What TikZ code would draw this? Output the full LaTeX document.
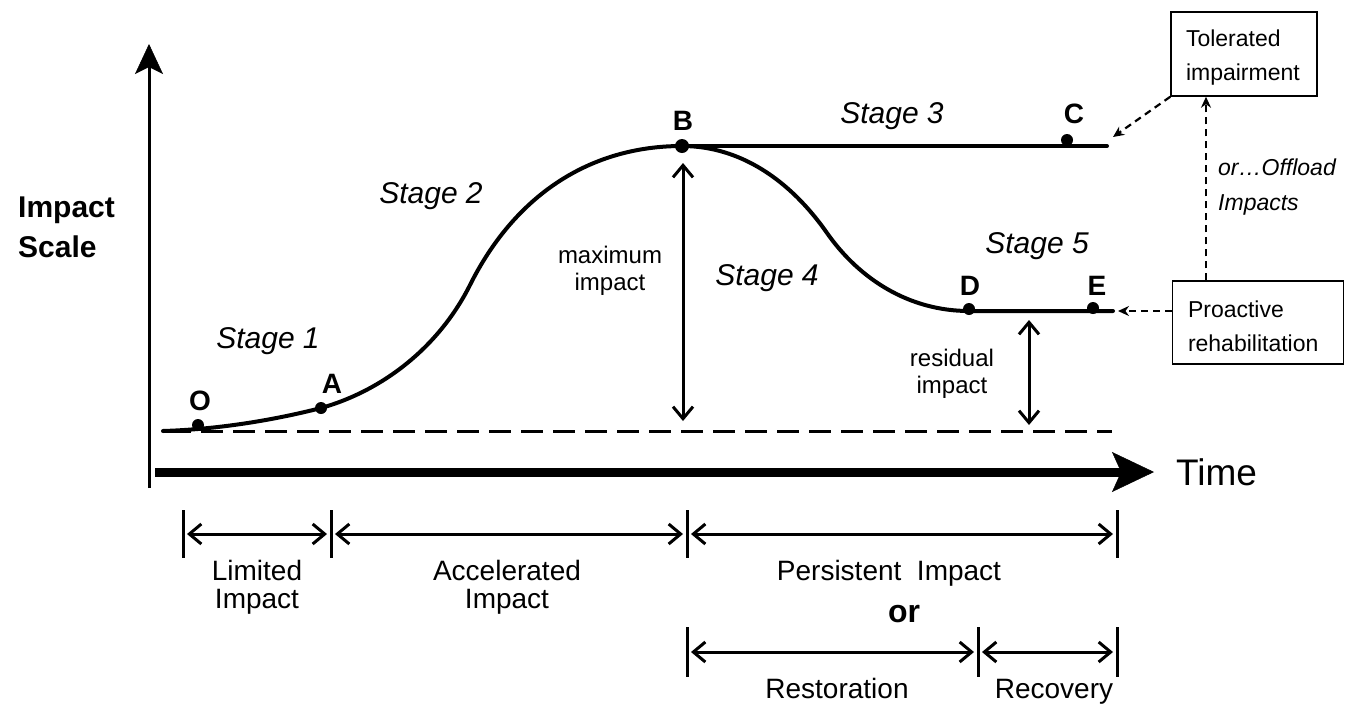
\documentclass[tikz,border=0pt]{standalone}
\usepackage{fontspec}
\setmainfont{Liberation Sans}
\usetikzlibrary{arrows.meta,calc}
\begin{document}
\begin{tikzpicture}[x=1pt,y=-1pt,
  curve/.style={line width=4pt, line cap=round},
  pt/.style={circle, fill=black, inner sep=0pt, minimum size=12pt},
  letter/.style={font=\fontsize{28}{30}\selectfont\bfseries, anchor=base, inner sep=0pt},
  stagelbl/.style={font=\fontsize{30}{32}\selectfont\itshape, anchor=base, inner sep=0pt},
  smalllbl/.style={font=\fontsize{24}{27}\selectfont, align=center, anchor=base, inner sep=0pt},
  spanlbl/.style={font=\fontsize{28}{28}\selectfont, align=center, anchor=base, inner sep=0pt},
  dbl/.style={line width=3pt, {Straight Barb[length=12pt,width=20pt]}-{Straight Barb[length=12pt,width=20pt]}},
  tickline/.style={line width=3pt},
  box/.style={draw, line width=1.5pt, font=\fontsize{23}{34}\selectfont, align=left, inner sep=0pt},
  dashconn/.style={line width=2.2pt, dash pattern=on 7pt off 5pt, -{Stealth[length=11pt,width=10pt]}},
]
\useasboundingbox (0,0) rectangle (1345,705);

% axes
\coordinate (yb) at (149,488);
\coordinate (yt) at (149,44);
\draw[line width=3pt,-{Stealth[length=30pt,width=28pt,inset=7pt,line width=0.5pt]}] (yb) -- (yt);
\coordinate (xb) at (155,472);
\coordinate (xt) at (1154,472);
\draw[line width=9pt,-{Stealth[length=42pt,width=40pt,inset=9pt,line width=0.5pt]}] (xb) -- (xt);
\node[font=\fontsize{37}{40}\selectfont, anchor=base west, inner sep=0pt] (time) at (1176,485) {Time};
\node[font=\fontsize{30}{40}\selectfont\bfseries, anchor=base west, align=left, inner sep=0pt] (scale) at (18,257) {Impact\\Scale};

% dashed baseline
\coordinate (d0) at (163,431);
\coordinate (d1) at (1112,431);
\draw[line width=3pt, dash pattern=on 22pt off 10pt, dash phase=26pt] (d0) -- (d1);

% curve points
\coordinate (s) at (163,431);
\coordinate (pO) at (198,425);
\coordinate (pA) at (321,408);
\coordinate (m1) at (470,285);
\coordinate (pB) at (682,146);
\coordinate (m2) at (827,233);
\coordinate (pD) at (969,311);
\coordinate (Eend) at (1113,311);
\coordinate (Cend) at (1107,146);
\draw[curve] (s) .. controls (230,429) and (290,416) .. (pA)
  .. controls (385,390) and (440,345) .. (m1)
  .. controls (515,195) and (590,146) .. (pB)
  .. controls (740,146) and (790,180) .. (m2)
  .. controls (860,280) and (910,311) .. (pD) -- (Eend);
\draw[curve] (pB) -- (Cend);

% dots
\node[pt] (O) at (pO) {};
\node[pt] (A) at (pA) {};
\node[pt, minimum size=14pt] (B) at (pB) {};
\node[pt] (C) at (1067,140) {};
\node[pt] (D) at (969,309) {};
\node[pt] (E) at (1093,308) {};

% point letters
\node[letter] (Ol) at (200,410) {O};
\node[letter] (Al) at (332,393) {A};
\node[letter] (Bl) at (683,130) {B};
\node[letter] (Cl) at (1074,123) {C};
\node[letter] (Dl) at (970,295) {D};
\node[letter] (El) at (1097,295) {E};

% stage labels
\node[stagelbl] (s1) at (268,348) {Stage 1};
\node[stagelbl] (s2) at (431,203) {Stage 2};
\node[stagelbl] (s3) at (892,123) {Stage 3};
\node[stagelbl] (s4) at (767,285) {Stage 4};
\node[stagelbl] (s5) at (1037,253) {Stage 5};

% maximum impact
\coordinate (mxT) at (683,163);
\coordinate (mxB) at (683,421);
\draw[dbl] (mxT) -- (mxB);
\node[smalllbl] (maxl) at (610,290) {maximum\\impact};

% residual impact
\coordinate (rsT) at (1029,320);
\coordinate (rsB) at (1029,425);
\draw[dbl] (rsT) -- (rsB);
\node[smalllbl] (resl) at (952,393) {residual\\impact};

% boxes
\node[box, minimum width=146pt, minimum height=84pt, text width=116pt] (tol) at (1244,54) {\strut Tolerated\\impairment};
\node[box, minimum width=171pt, minimum height=83pt, text width=140pt] (pro) at (1258,322.5) {\strut Proactive\\rehabilitation};
\node[font=\fontsize{23}{35}\selectfont\itshape, align=left, anchor=base west, inner sep=0pt] (off) at (1218,210) {or…Offload\\Impacts};

\coordinate (tolTip) at (1113,137);
\coordinate (proTip) at (1118,311);
\coordinate (vx) at (1206,0);
\draw[dashconn] (tol.south west) -- (tolTip);
\draw[dashconn] (pro.west |- proTip) -- (proTip);
\draw[dashconn] (pro.north -| vx) -- (tol.south -| vx);

% bottom row 1
\coordinate (r1a) at (183,534);
\coordinate (r1b) at (331,534);
\coordinate (r1c) at (687,534);
\coordinate (r1d) at (1117,534);
\foreach \n in {r1a,r1b,r1c,r1d}
  \draw[tickline] ($(\n)+(0,-24)$) -- ($(\n)+(0,24)$);
\draw[dbl, shorten <=4pt, shorten >=4pt] (r1a) -- (r1b);
\draw[dbl, shorten <=4pt, shorten >=4pt] (r1b) -- (r1c);
\draw[dbl, shorten <=4pt, shorten >=4pt] (r1c) -- (r1d);
\node[spanlbl] (lim) at (257,608) {Limited\\Impact};
\node[spanlbl] (acc) at (507,608) {Accelerated\\Impact};
\node[spanlbl] (per) at (889,580) {Persistent~~Impact};
\node[font=\fontsize{32}{34}\selectfont\bfseries, anchor=base, inner sep=0pt] (or) at (904,622) {or};

% bottom row 2
\coordinate (r2a) at (687,652);
\coordinate (r2b) at (978,652);
\coordinate (r2c) at (1117,652);
\foreach \n in {r2a,r2b,r2c}
  \draw[tickline] ($(\n)+(0,-25)$) -- ($(\n)+(0,25)$);
\draw[dbl, shorten <=4pt, shorten >=4pt] (r2a) -- (r2b);
\draw[dbl, shorten <=4pt, shorten >=4pt] (r2b) -- (r2c);
\node[spanlbl] (rest) at (837,698) {Restoration};
\node[spanlbl] (rec) at (1054,698) {Recovery};
\end{tikzpicture}
\end{document}
